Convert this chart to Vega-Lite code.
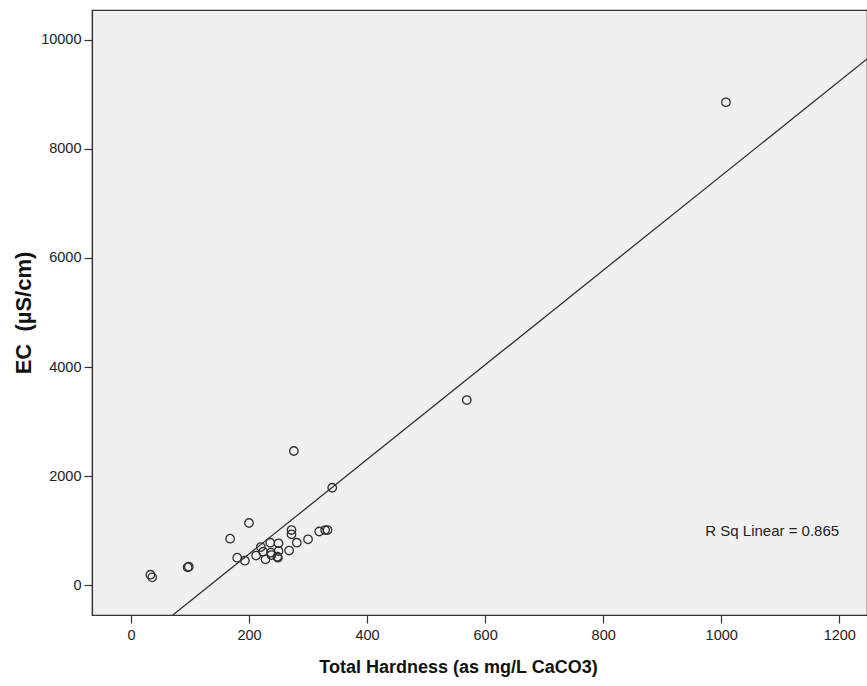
{
  "$schema": "https://vega.github.io/schema/vega-lite/v6.json",
  "width": 775,
  "height": 605,
  "autosize": "none",
  "padding": {"left": 92, "top": 10, "right": 0, "bottom": 71},
  "background": "white",
  "config": {
    "view": {"fill": "#F0F0F0", "stroke": "#333333", "strokeWidth": 1.2},
    "axis": {
      "labelFont": "Liberation Sans",
      "titleFont": "Liberation Sans",
      "labelFontSize": 14.5,
      "titleFontSize": 18,
      "titleFontWeight": "bold",
      "labelColor": "#222222",
      "titleColor": "#111111",
      "domainColor": "#333333",
      "domainWidth": 1.2,
      "tickColor": "#333333",
      "tickWidth": 1.2,
      "tickSize": 8,
      "labelPadding": 3,
      "grid": false
    }
  },
  "datasets": {
    "pts": [
      {"hardness": 276, "ec": 2459},
      {"hardness": 341, "ec": 1785},
      {"hardness": 200, "ec": 1138},
      {"hardness": 168, "ec": 850},
      {"hardness": 272, "ec": 1009},
      {"hardness": 272, "ec": 930},
      {"hardness": 319, "ec": 982},
      {"hardness": 329, "ec": 1009},
      {"hardness": 333, "ec": 1009},
      {"hardness": 300, "ec": 839},
      {"hardness": 281, "ec": 776},
      {"hardness": 268, "ec": 633},
      {"hardness": 250, "ec": 765},
      {"hardness": 236, "ec": 776},
      {"hardness": 220, "ec": 697},
      {"hardness": 224, "ec": 611},
      {"hardness": 237, "ec": 593},
      {"hardness": 250, "ec": 624},
      {"hardness": 248, "ec": 519},
      {"hardness": 249, "ec": 501},
      {"hardness": 228, "ec": 472},
      {"hardness": 212, "ec": 541},
      {"hardness": 193, "ec": 446},
      {"hardness": 180, "ec": 501},
      {"hardness": 238, "ec": 550},
      {"hardness": 98, "ec": 336},
      {"hardness": 96, "ec": 325},
      {"hardness": 33, "ec": 189},
      {"hardness": 36, "ec": 141},
      {"hardness": 569, "ec": 3394},
      {"hardness": 1008, "ec": 8857}
    ],
    "fit": [
      {"hardness": 71, "ec": -550},
      {"hardness": 1247, "ec": 9651}
    ],
    "note": [
      {"hardness": 973, "ec": 991, "label": "R Sq Linear = 0.865"}
    ]
  },
  "layer": [
    {
      "data": {"name": "fit"},
      "mark": {"type": "line", "color": "#333333", "strokeWidth": 1.3, "clip": true},
      "encoding": {
        "x": {"field": "hardness", "type": "quantitative"},
        "y": {"field": "ec", "type": "quantitative"}
      }
    },
    {
      "data": {"name": "pts"},
      "mark": {"type": "point", "shape": "circle", "filled": false, "size": 72, "stroke": "#333333", "strokeWidth": 1.3, "opacity": 1},
      "encoding": {
        "x": {
          "field": "hardness",
          "type": "quantitative",
          "scale": {"domain": [-66, 1247], "nice": false, "zero": false},
          "axis": {"values": [0, 200, 400, 600, 800, 1000, 1200], "format": "d", "title": "Total Hardness (as mg/L CaCO3)", "titlePadding": 17, "labelPadding": 5, "titleX": 366, "titleAnchor": "middle", "labelFlush": false}
        },
        "y": {
          "field": "ec",
          "type": "quantitative",
          "scale": {"domain": [-550, 10550], "nice": false, "zero": false},
          "axis": {"values": [0, 2000, 4000, 6000, 8000, 10000], "format": "d", "title": "EC\u00a0\u00a0(µS/cm)", "titleFontSize": 22, "titlePadding": 5, "labelFlush": false}
        }
      }
    },
    {
      "data": {"name": "note"},
      "mark": {"type": "text", "align": "left", "baseline": "middle", "font": "Liberation Sans", "fontSize": 15, "color": "#222222"},
      "encoding": {
        "x": {"field": "hardness", "type": "quantitative"},
        "y": {"field": "ec", "type": "quantitative"},
        "text": {"field": "label"}
      }
    }
  ]
}
